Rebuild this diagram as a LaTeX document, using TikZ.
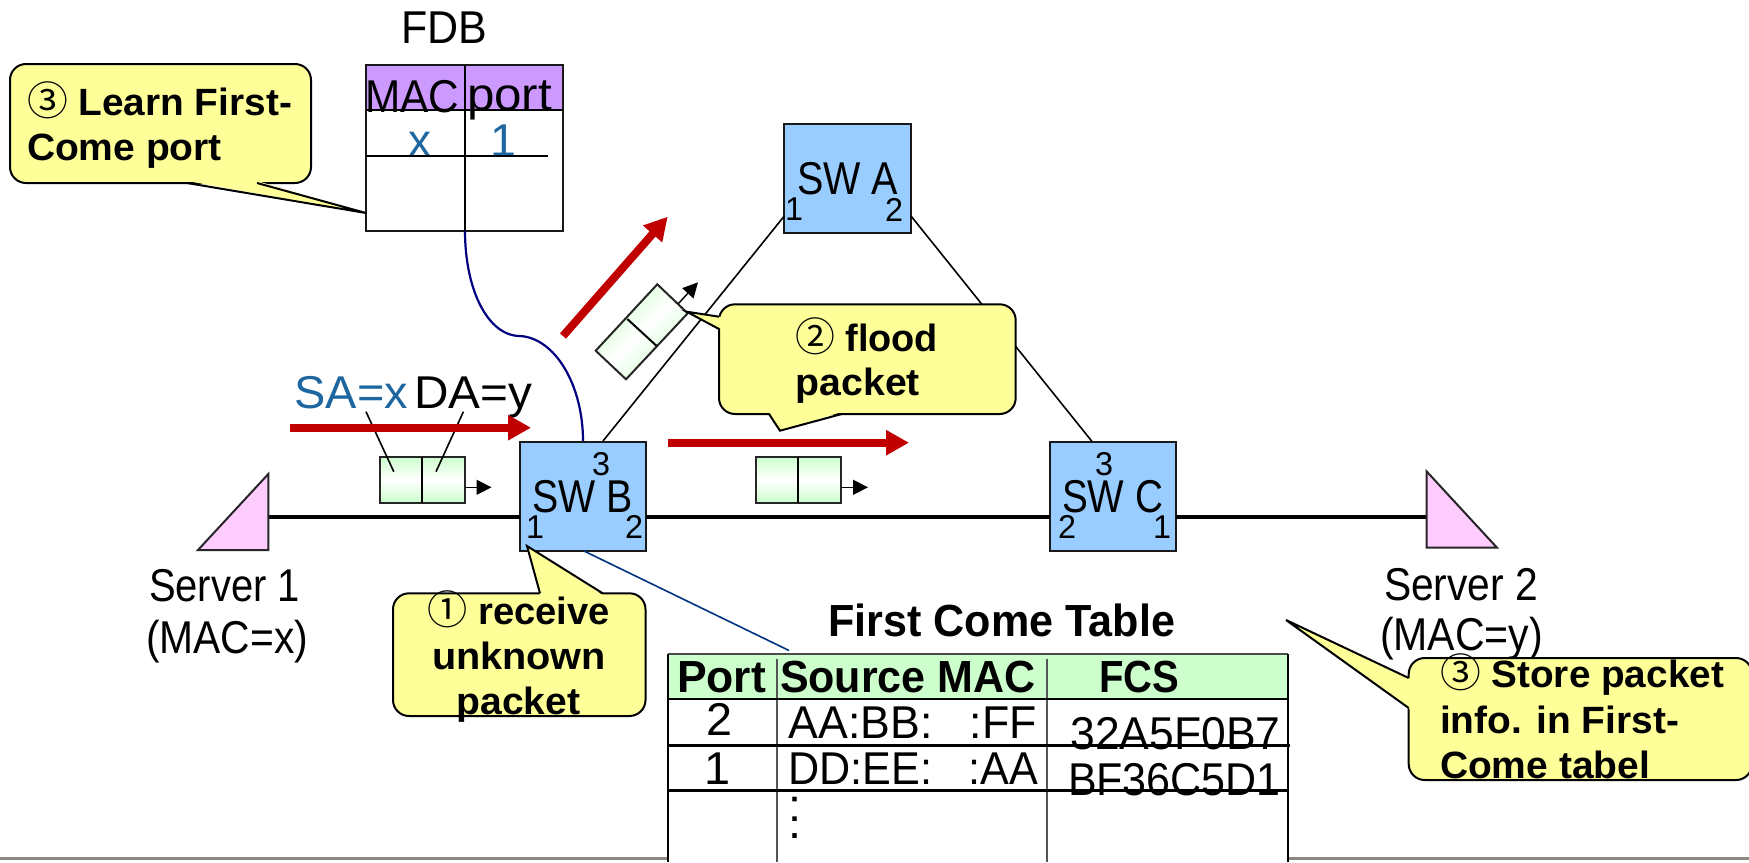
\documentclass[tikz,border=0pt]{standalone}
\usepackage{fontspec}
\usepackage{graphicx}
\setmainfont{Liberation Sans}
\newfontfamily\circfont{Noto Sans CJK JP}
\usetikzlibrary{arrows.meta}
\definecolor{swblue}{HTML}{99CCFF}
\definecolor{srvpink}{HTML}{FFCCFF}
\definecolor{callyel}{HTML}{FFFF99}
\definecolor{pktgreen}{HTML}{CCFFCC}
\definecolor{fdbhead}{HTML}{CC99FF}
\definecolor{arrred}{HTML}{C00000}
\definecolor{txtblue}{HTML}{1D669F}
\definecolor{curveblue}{HTML}{000080}
\definecolor{linknavy}{HTML}{003380}
\definecolor{floorgray}{HTML}{8A8A80}
\definecolor{colgray}{HTML}{555555}
\newcommand\fbody{\fontsize{23}{27}\selectfont}
\newcommand\fsmall{\fontsize{16.5}{19}\selectfont}
\newcommand\fcall{\fontsize{19}{23}\selectfont\bfseries}
\newcommand\fhead{\fontsize{22.5}{27}\selectfont\bfseries}
\newcommand\cn[1]{{\circfont\mdseries\fontsize{20}{23}\selectfont #1}}
% name, x1, x2, baseline, font, text
\newcommand\tx[6]{%
  \pgfmathsetlengthmacro\tw{((#3)-(#2))*0.5pt}%
  \node[anchor=base west,inner sep=0pt,outer sep=0pt] (#1) at (#2,#4) {#5\resizebox{\tw}{\height}{#6}};%
}
% name, x1, y1, x2, y2, style
\newcommand\bx[6]{%
  \pgfmathsetlengthmacro\bw{((#4)-(#2))*0.5pt}%
  \pgfmathsetlengthmacro\bh{((#5)-(#3))*0.5pt}%
  \node[#6,minimum width=\bw,minimum height=\bh,inner sep=0pt,outer sep=0pt] (#1) at ({((#2)+(#4))/2},{((#3)+(#5))/2}) {};%
}
\tikzset{
  swbox/.style={draw=black!90,line width=1pt,fill=swblue},
  callbox/.style={draw=black,line width=1pt,fill=callyel,rounded corners=8pt},
  pktbox/.style={draw=black!85,line width=1pt,top color=pktgreen,bottom color=pktgreen,middle color=white},
  srv/.style={draw=black!85,line width=1pt,fill=srvpink,line join=miter},
  tailline/.style={draw=black,line width=1pt,line join=miter},
  tailfill/.style={fill=callyel,draw=none},
  biglink/.style={black,line width=1.6pt},
  thinlink/.style={black,line width=.8pt},
  redarr/.style={arrred,line width=4pt,-{Triangle[length=11.5pt,width=12pt]}},
  pktarr/.style={black,line width=.7pt,-{Triangle[length=7.5pt,width=7.5pt]}},
  grid/.style={black,line width=1pt},
  rowline/.style={black,line width=1.5pt},
  colline/.style={colgray,line width=.9pt},
}
\begin{document}
\begin{tikzpicture}[x=0.5pt,y=-0.5pt]
\useasboundingbox (0,0) rectangle (1749,862);
% floor line
\coordinate (fl) at (0,858); \coordinate (fr) at (1749,858);
\draw[floorgray,line width=1.5pt] (fl) -- (fr);
% switches
\bx{swa}{784.3}{124}{911}{233.3}{swbox}
\bx{swb}{520}{441.5}{645.5}{551}{swbox}
\bx{swc}{1050}{441.5}{1176}{551}{swbox}
% connection points
\coordinate (a1) at (784.3,216); \coordinate (a2) at (911,216);
\coordinate (b3) at (603,441); \coordinate (c3) at (1092,441.5);
\coordinate (b1) at (520,517); \coordinate (b2) at (645.5,517);
\coordinate (c2) at (1050,517); \coordinate (c1) at (1176,517);
\coordinate (s1) at (268.3,517); \coordinate (s2) at (1426.7,517);
\draw[thinlink] (a1) -- (b3);
\draw[thinlink] (a2) -- (c3);
\draw[biglink] (s1) -- (b1);
\draw[biglink] (b2) -- (c2);
\draw[biglink] (c1) -- (s2);
% servers
\draw[srv] (268.3,474) -- (268.3,550) -- (198,550) -- cycle;
\draw[srv] (1426.7,471.5) -- (1426.7,547.7) -- (1497,547.7) -- cycle;
\tx{srv1a}{149}{300}{601.7}{\fbody}{Server 1}
\tx{srv1b}{146}{308}{653}{\fbody}{(MAC=x)}
\tx{srv2a}{1384}{1538}{600}{\fbody}{Server 2}
\tx{srv2b}{1380}{1543}{650}{\fbody}{(MAC=y)}
% switch labels
\tx{swat}{797}{898}{194}{\fbody}{SW A}
\tx{swa1}{785}{803}{220.7}{\fsmall}{1}
\tx{swa2}{885}{903}{221}{\fsmall}{2}
\tx{swbt}{532.5}{633}{512.7}{\fbody}{SW B}
\tx{swb3}{592}{610}{475}{\fsmall}{3}
\tx{swb1}{526}{544}{538}{\fsmall}{1}
\tx{swb2}{625}{643}{538}{\fsmall}{2}
\tx{swct}{1062}{1163}{512.7}{\fbody}{SW C}
\tx{swc3}{1095}{1113}{475}{\fsmall}{3}
\tx{swc2}{1058}{1076}{538}{\fsmall}{2}
\tx{swc1}{1153}{1171}{538}{\fsmall}{1}
% FDB
\tx{fdbt}{401}{487}{43}{\fbody}{FDB}
\bx{fdbh}{366}{65}{562.5}{110}{fill=fdbhead}
\bx{fdb}{366}{65}{562.5}{231}{draw=black!90,line width=1pt}
\draw[grid] (fdbh.south west) -- (fdbh.south east);
\tx{fdbmac}{365}{459}{112}{\fbody}{MAC}
\tx{fdbport}{467}{552}{110}{\fbody}{port}
\tx{fdbx}{408}{431}{156}{\fbody\color{txtblue}}{x}
\tx{fdbone}{490}{516}{156}{\fbody\color{txtblue}}{1}
\coordinate (fdbm) at (465,65); \coordinate (fdbb) at (465,231);
\coordinate (fdbl) at (366,155.7); \coordinate (fdbr) at (548,155.7);
\draw[grid] (fdbm) -- (fdbb);
\draw[grid] (fdbl) -- (fdbr);
% curve and link to first come table
\coordinate (curvemid) at (520,336);
\coordinate (b3c) at (583,441);
\draw[curveblue,line width=1.1pt] (fdbb) .. controls (465,290) and (488,336) .. (520,336) .. controls (555,338) and (583,385) .. (b3c);
\coordinate (bbot) at (584,551); \coordinate (ftop) at (789,650.5);
\draw[linknavy,line width=.8pt] (bbot) -- (ftop);
% packets
\bx{pk1}{380}{456.7}{464.7}{502.7}{pktbox}
\coordinate (pk1m) at (422.3,456.7); \coordinate (pk1n) at (422.3,502.7);
\draw[grid] (pk1m) -- (pk1n);
\coordinate (pk1o) at (464.7,487.3); \coordinate (pk1t) at (491.5,487.3);
\draw[pktarr] (pk1o) -- (pk1t);
\bx{pk2}{756}{456.7}{841}{502.7}{pktbox}
\coordinate (pk2m) at (798,456.7); \coordinate (pk2n) at (798,502.7);
\draw[grid] (pk2m) -- (pk2n);
\coordinate (pk2o) at (841,487.3); \coordinate (pk2t) at (868,487.3);
\draw[pktarr] (pk2o) -- (pk2t);
\draw[draw=black!85,line width=1pt,top color=pktgreen,bottom color=pktgreen,middle color=white,shading angle=45]
  (657.3,284.3) -- (687.7,313.3) -- (626,379.3) -- (595.7,350.7) -- cycle;
\draw[grid] (627.3,319) -- (656.7,346);
\coordinate (pk3o) at (678,304); \coordinate (pk3t) at (698,282.3);
\draw[pktarr] (pk3o) -- (pk3t);
% SA / DA
\tx{sa}{294.5}{408}{408}{\fbody\color{txtblue}}{SA=x}
\tx{da}{414}{532}{408}{\fbody}{DA=y}
\coordinate (sa0) at (366,411.7); \coordinate (sa1) at (393.8,471.7);
\coordinate (da0) at (463.4,411.7); \coordinate (da1) at (436,471.7);
\draw[thinlink] (sa0) -- (sa1);
\draw[thinlink] (da0) -- (da1);
% red arrows
\coordinate (r1a) at (290,427.7); \coordinate (r1b) at (531,427.7);
\coordinate (r2a) at (668,442.7); \coordinate (r2b) at (909,442.7);
\coordinate (r3a) at (563,336); \coordinate (r3b) at (667.7,216.7);
\draw[redarr] (r1a) -- (r1b);
\draw[redarr] (r2a) -- (r2b);
\draw[redarr] (r3a) -- (r3b);
% callout: learn
\bx{cl}{10}{64}{311}{183}{callbox}
\fill[tailfill] (187,181) -- (366,213) -- (257,181) -- cycle;
\draw[tailline] (187,183) -- (366,213) -- (257,183);
\tx{cla}{27}{292}{115}{\fcall}{\cn{③}~Learn First-}
\tx{clb}{27}{222}{160}{\fcall}{Come port}
% callout: flood
\bx{cf}{719}{304.3}{1015.7}{414}{callbox}
\fill[tailfill] (721,317) -- (686.7,311.7) -- (721,329) -- cycle;
\draw[tailline] (719,316.7) -- (686.7,311.7) -- (719,329);
\fill[tailfill] (769,412) -- (780,430.7) -- (841.7,412) -- cycle;
\draw[tailline] (769,414) -- (780,430.7) -- (841.7,414);
\tx{cfa}{795}{938}{351.7}{\fcall}{\cn{②}~flood}
\tx{cfb}{795.7}{920}{395}{\fcall}{packet}
% callout: receive
\bx{cr}{393}{593.3}{645.5}{716}{callbox}
\fill[tailfill] (540,595) -- (527,546) -- (602.7,595) -- cycle;
\draw[tailline] (540,593.3) -- (527,546) -- (602.7,593.3);
\tx{cra}{427.6}{610}{624}{\fcall}{\cn{①}~receive}
\tx{crb}{432}{606}{669}{\fcall}{unknown}
\tx{crc}{456.6}{580.5}{714}{\fcall}{packet}
% first come table
\tx{ftt}{828.5}{1175}{636.7}{\fhead}{First Come Table}
\bx{ftbody}{668}{654.3}{1288}{866}{fill=white}
\bx{fthead}{668}{654.3}{1288}{699.3}{fill=pktgreen}
\coordinate (tl0) at (668,654.3); \coordinate (tl1) at (668,862);
\coordinate (tr0) at (1288,654.3); \coordinate (tr1) at (1288,862);
\coordinate (hl) at (668,699.3); \coordinate (hr) at (1288,699.3);
\draw[line width=.9pt,draw=black!70] (tl0) -- (tr0);
\tx{fp}{677}{766}{692.7}{\fhead}{Port}
\tx{fs}{780}{1035.6}{692.7}{\fhead}{Source MAC}
\tx{ff}{1099.5}{1179.6}{692.7}{\fhead}{FCS}
\tx{r1p}{706}{732}{735}{\fbody}{2}
\tx{r1s}{788.6}{1036.5}{738}{\fbody}{AA:BB:~~~:FF}
\tx{r1f}{1070.5}{1280.6}{749}{\fbody}{32A5F0B7}
\tx{r2p}{704}{730}{784}{\fbody}{1}
\tx{r2s}{788.6}{1037.8}{784}{\fbody}{DD:EE:~~~:AA}
\tx{r2f}{1068}{1280.6}{795}{\fbody}{BF36C5D1}
\tx{dots1}{788}{801}{821}{\fbody}{:}
\tx{dots2}{788}{801}{838}{\fbody}{.}
\coordinate (c1t) at (777,659); \coordinate (c1b) at (777,862);
\coordinate (c2t) at (1046.8,659); \coordinate (c2b) at (1046.8,862);
\draw[colline] (c1t) -- (c1b);
\draw[colline] (c2t) -- (c2b);
\draw[grid] (hl) -- (hr);
\coordinate (r1l) at (668,745); \coordinate (r1r) at (1290,745);
\coordinate (r2l) at (668,790); \coordinate (r2r) at (1288,790);
\draw[rowline] (r1l) -- (r1r);
\draw[rowline] (r2l) -- (r2r);
\draw[grid] (tl0) -- (tl1);
\draw[grid] (tr0) -- (tr1);
% callout: store
\bx{cs}{1408.7}{658}{1752}{780}{callbox}
\fill[tailfill] (1411,679) -- (1286,620) -- (1411,710) -- cycle;
\draw[tailline] (1408.7,678) -- (1286,620) -- (1408.7,708);
\tx{csa}{1440}{1724}{687}{\fcall}{\cn{③}~Store packet}
\tx{csb}{1440}{1679}{733}{\fcall}{info. in First-}
\tx{csc}{1440}{1650}{778}{\fcall}{Come tabel}
\end{tikzpicture}
\end{document}
